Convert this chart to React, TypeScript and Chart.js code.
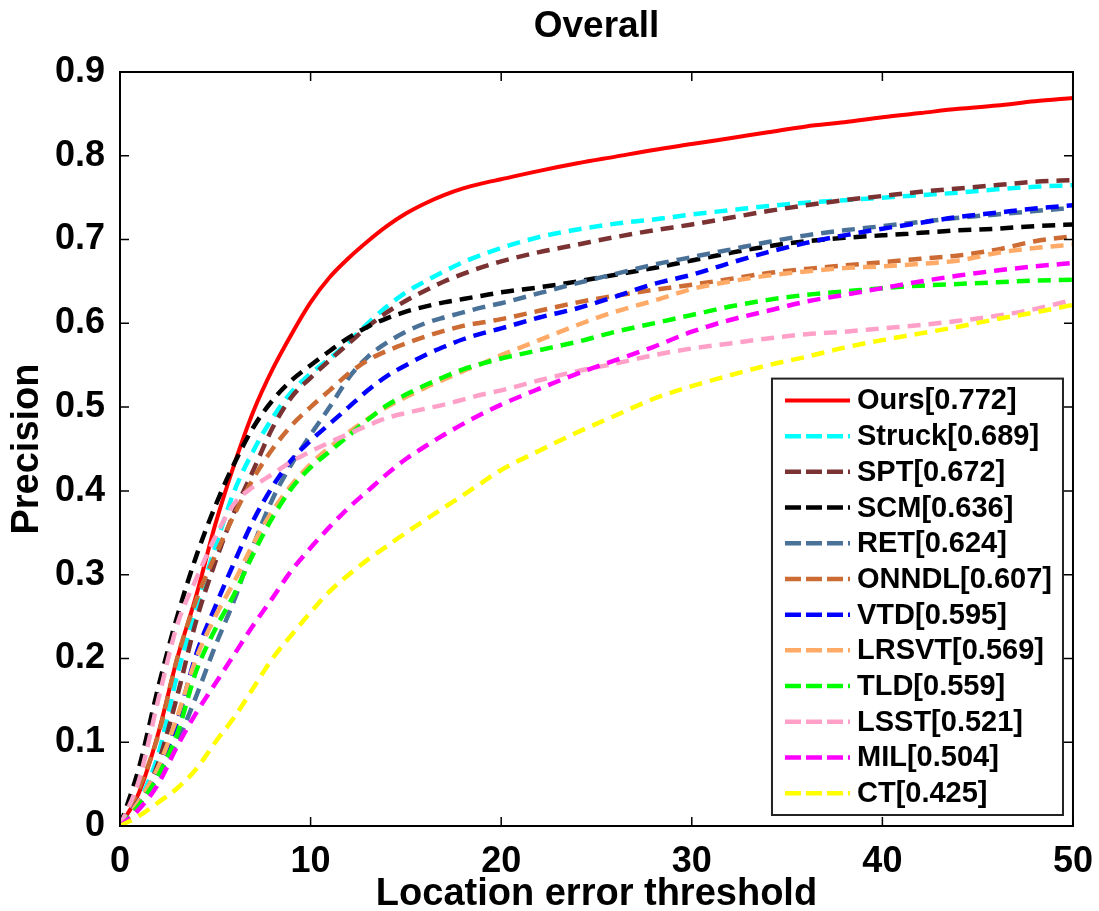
import React, { useEffect, useRef } from 'react';
import { Chart, registerables } from 'chart.js';

Chart.register(...registerables);

// ---- data ----
const xValues = [0, 1, 2, 3, 4, 5, 6, 7, 8, 9, 10, 11, 12, 13, 14, 15, 16, 17, 18, 19, 20, 22, 24, 26, 28, 30, 32, 34, 36, 38, 40, 42, 44, 46, 48, 50];

const ours = [0, 0.04, 0.11, 0.2, 0.275, 0.36, 0.432, 0.495, 0.545, 0.587, 0.625, 0.655, 0.678, 0.698, 0.716, 0.731, 0.743, 0.753, 0.761, 0.767, 0.772, 0.782, 0.791, 0.799, 0.807, 0.814, 0.821, 0.828, 0.835, 0.84, 0.846, 0.851, 0.856, 0.86, 0.865, 0.869];
const struck = [0, 0.03, 0.085, 0.18, 0.26, 0.333, 0.4, 0.448, 0.487, 0.518, 0.54, 0.558, 0.578, 0.6, 0.62, 0.637, 0.65, 0.662, 0.673, 0.682, 0.69, 0.703, 0.712, 0.719, 0.724, 0.73, 0.735, 0.74, 0.744, 0.747, 0.75, 0.753, 0.756, 0.76, 0.763, 0.765];
const spt = [0, 0.025, 0.075, 0.155, 0.245, 0.315, 0.375, 0.425, 0.475, 0.512, 0.535, 0.556, 0.576, 0.596, 0.613, 0.627, 0.639, 0.65, 0.659, 0.667, 0.674, 0.685, 0.694, 0.703, 0.711, 0.718, 0.726, 0.734, 0.741, 0.747, 0.752, 0.757, 0.761, 0.765, 0.769, 0.771];
const scm = [0, 0.07, 0.165, 0.25, 0.322, 0.382, 0.433, 0.476, 0.508, 0.532, 0.55, 0.567, 0.583, 0.596, 0.606, 0.614, 0.62, 0.625, 0.629, 0.633, 0.637, 0.643, 0.65, 0.658, 0.666, 0.675, 0.684, 0.692, 0.698, 0.702, 0.705, 0.708, 0.711, 0.713, 0.716, 0.718];
const ret = [0, 0.025, 0.06, 0.1, 0.155, 0.215, 0.27, 0.335, 0.39, 0.432, 0.467, 0.5, 0.535, 0.56, 0.577, 0.59, 0.6, 0.607, 0.613, 0.619, 0.624, 0.636, 0.648, 0.659, 0.67, 0.679, 0.688, 0.697, 0.705, 0.711, 0.716, 0.721, 0.726, 0.73, 0.734, 0.738];
const onndl = [0, 0.045, 0.108, 0.2, 0.27, 0.323, 0.372, 0.415, 0.45, 0.478, 0.5, 0.52, 0.54, 0.556, 0.567, 0.576, 0.584, 0.591, 0.597, 0.601, 0.605, 0.615, 0.625, 0.633, 0.64, 0.646, 0.653, 0.66, 0.665, 0.669, 0.673, 0.677, 0.681, 0.688, 0.698, 0.704];
const vtd = [0, 0.03, 0.065, 0.125, 0.205, 0.262, 0.315, 0.365, 0.405, 0.437, 0.46, 0.48, 0.5, 0.52, 0.537, 0.55, 0.562, 0.572, 0.581, 0.588, 0.594, 0.607, 0.618, 0.632, 0.647, 0.658, 0.672, 0.685, 0.696, 0.705, 0.713, 0.72, 0.727, 0.732, 0.737, 0.741];
const lrsvt = [0, 0.03, 0.07, 0.13, 0.2, 0.25, 0.292, 0.337, 0.376, 0.407, 0.432, 0.452, 0.47, 0.486, 0.5, 0.512, 0.523, 0.533, 0.543, 0.552, 0.562, 0.58, 0.598, 0.614, 0.627, 0.641, 0.65, 0.657, 0.662, 0.666, 0.668, 0.671, 0.675, 0.684, 0.69, 0.694];
const tld = [0, 0.025, 0.06, 0.11, 0.185, 0.235, 0.277, 0.325, 0.368, 0.403, 0.428, 0.447, 0.466, 0.485, 0.502, 0.515, 0.526, 0.536, 0.545, 0.552, 0.558, 0.568, 0.578, 0.59, 0.6, 0.61, 0.62, 0.628, 0.634, 0.638, 0.642, 0.645, 0.647, 0.649, 0.651, 0.652];
const lsst = [0, 0.055, 0.15, 0.24, 0.295, 0.345, 0.385, 0.405, 0.42, 0.435, 0.447, 0.458, 0.468, 0.478, 0.487, 0.493, 0.498, 0.503, 0.509, 0.515, 0.52, 0.532, 0.543, 0.552, 0.562, 0.57, 0.576, 0.582, 0.587, 0.59, 0.594, 0.598, 0.603, 0.609, 0.617, 0.628];
const mil = [0, 0.02, 0.05, 0.095, 0.135, 0.17, 0.205, 0.24, 0.272, 0.305, 0.332, 0.357, 0.38, 0.4, 0.42, 0.438, 0.453, 0.467, 0.48, 0.492, 0.503, 0.522, 0.54, 0.556, 0.572, 0.59, 0.604, 0.615, 0.626, 0.634, 0.642, 0.65, 0.657, 0.663, 0.668, 0.672];
const ct = [0, 0.012, 0.028, 0.045, 0.068, 0.1, 0.13, 0.165, 0.2, 0.228, 0.255, 0.28, 0.3, 0.318, 0.334, 0.35, 0.365, 0.38, 0.395, 0.41, 0.425, 0.448, 0.47, 0.49, 0.51, 0.525, 0.538, 0.55, 0.56, 0.571, 0.58, 0.588, 0.596, 0.605, 0.613, 0.622];

const seriesNames = ['Ours[0.772]', 'Struck[0.689]', 'SPT[0.672]', 'SCM[0.636]', 'RET[0.624]', 'ONNDL[0.607]', 'VTD[0.595]', 'LRSVT[0.569]', 'TLD[0.559]', 'LSST[0.521]', 'MIL[0.504]', 'CT[0.425]'];
const seriesColors = ['#FF0000', '#00FFFF', '#7A3232', '#000000', '#4A7299', '#CC6B33', '#0000FF', '#FFAA66', '#00FF00', '#FFA0C8', '#FF00FF', '#FFFF00'];
const seriesDashed = [false, true, true, true, true, true, true, true, true, true, true, true];

const xTickValues = [0, 10, 20, 30, 40, 50];
const xTickLabels = ['0', '10', '20', '30', '40', '50'];
const yTickValues = [0, 0.1, 0.2, 0.3, 0.4, 0.5, 0.6, 0.7, 0.8, 0.9];
const yTickLabels = ['0', '0.1', '0.2', '0.3', '0.4', '0.5', '0.6', '0.7', '0.8', '0.9'];

const titleText = 'Overall';
const xTitle = 'Location error threshold';
const yTitle = 'Precision';

const FONT = "'Liberation Sans', Arial, Helvetica, sans-serif";

export default function App() {
  const ref = useRef<HTMLCanvasElement>(null);

  useEffect(() => {
    const canvas = ref.current;
    if (!canvas) return;
    const seriesValues = [ours, struck, spt, scm, ret, onndl, vtd, lrsvt, tld, lsst, mil, ct];
    const n = seriesValues.length;
    const plotDash = [13, 8];
    const legendDash = [16, 5];

    const datasets = seriesValues.map((vals, i) => ({
      label: seriesNames[i],
      data: xValues.map((x, j) => ({ x, y: vals[j] })),
      borderColor: seriesColors[i],
      backgroundColor: seriesColors[i],
      borderWidth: i === 0 ? 4 : 4.5,
      borderDash: seriesDashed[i] ? plotDash : [],
      borderCapStyle: 'butt',
      pointRadius: 0,
      pointHoverRadius: 0,
      cubicInterpolationMode: 'monotone',
      fill: false,
      order: n - 1 - i,
    }));

    const framePlugin = {
      id: 'frameTicks',
      afterDatasetsDraw(chart: any) {
        const { ctx, chartArea: a, scales } = chart;
        ctx.save();
        ctx.strokeStyle = '#000';
        ctx.lineWidth = 1.5;
        ctx.setLineDash([]);
        const tl = 9;
        xTickValues.forEach((v) => {
          const p = scales.x.getPixelForValue(v);
          ctx.beginPath();
          ctx.moveTo(p, a.bottom);
          ctx.lineTo(p, a.bottom - tl);
          ctx.moveTo(p, a.top);
          ctx.lineTo(p, a.top + tl);
          ctx.stroke();
        });
        yTickValues.forEach((v) => {
          const p = scales.y.getPixelForValue(v);
          ctx.beginPath();
          ctx.moveTo(a.left, p);
          ctx.lineTo(a.left + tl, p);
          ctx.moveTo(a.right, p);
          ctx.lineTo(a.right - tl, p);
          ctx.stroke();
        });
        ctx.lineWidth = 2;
        ctx.strokeRect(a.left, a.top, a.right - a.left, a.bottom - a.top);
        ctx.restore();
      },
    };

    const legendPlugin = {
      id: 'boxLegend',
      afterDraw(chart: any) {
        const { ctx, chartArea: a } = chart;
        const right = a.right - 10;
        const bottom = a.bottom - 11;
        const w = 291;
        const rowH = 35.7;
        const padY = 4;
        const h = rowH * n + padY * 2;
        const left = right - w;
        const top = bottom - h;
        ctx.save();
        ctx.fillStyle = '#fff';
        ctx.fillRect(left, top, w, h);
        ctx.strokeStyle = '#222';
        ctx.lineWidth = 2;
        ctx.setLineDash([]);
        ctx.strokeRect(left, top, w, h);
        ctx.font = `bold 29px ${FONT}`;
        ctx.textBaseline = 'middle';
        ctx.textAlign = 'left';
        for (let i = 0; i < n; i++) {
          const cy = top + padY + rowH * i + rowH / 2;
          ctx.beginPath();
          ctx.strokeStyle = seriesColors[i];
          ctx.lineWidth = i === 0 ? 4 : 4.5;
          ctx.setLineDash(seriesDashed[i] ? legendDash : []);
          ctx.moveTo(left + 13, cy);
          ctx.lineTo(left + 78, cy);
          ctx.stroke();
          ctx.setLineDash([]);
          ctx.fillStyle = '#000';
          ctx.fillText(seriesNames[i], left + 85, cy + 1);
        }
        ctx.restore();
      },
    };

    const tickFont = { family: FONT, size: 36, weight: 'bold' as const };
    const titleFont = { family: FONT, size: 38, weight: 'bold' as const, lineHeight: 1.2 };

    const chart = new Chart(canvas, {
      type: 'line',
      data: { datasets: datasets as any },
      options: {
        responsive: false,
        animation: false,
        devicePixelRatio: 1,
        events: [],
        layout: { padding: { left: 0, right: 23, top: 0, bottom: 0 } },
        plugins: {
          legend: { display: false },
          tooltip: { enabled: false },
          title: {
            display: true,
            text: titleText,
            fullSize: false,
            color: '#000',
            font: { family: FONT, size: 37, weight: 'bold', lineHeight: 1.2 },
            padding: { top: 5, bottom: 22.6 },
          },
        },
        scales: {
          x: {
            type: 'linear',
            min: 0,
            max: 50,
            afterFit: (s: any) => {
              s.height = 85;
            },
            afterBuildTicks: (s: any) => {
              s.ticks = xTickValues.map((v) => ({ value: v }));
            },
            grid: { display: false },
            border: { display: false },
            ticks: {
              callback: (_v: any, i: number) => xTickLabels[i],
              font: tickFont,
              color: '#000',
              padding: 6,
              maxRotation: 0,
              autoSkip: false,
            },
            title: {
              display: true,
              text: xTitle,
              color: '#000',
              font: titleFont,
              padding: { top: 0, bottom: -6 },
            },
          },
          y: {
            type: 'linear',
            min: 0,
            max: 0.9,
            afterFit: (s: any) => {
              s.width = 120;
            },
            afterBuildTicks: (s: any) => {
              s.ticks = yTickValues.map((v) => ({ value: v }));
            },
            grid: { display: false },
            border: { display: false },
            ticks: {
              callback: (_v: any, i: number) => yTickLabels[i],
              font: tickFont,
              color: '#000',
              padding: 7,
              autoSkip: false,
            },
            title: {
              display: true,
              text: yTitle,
              color: '#000',
              font: titleFont,
              padding: { top: 5, bottom: 0 },
            },
          },
        },
      } as any,
      plugins: [framePlugin, legendPlugin],
    });

    return () => {
      chart.destroy();
    };
  }, []);

  return (
    <div style={{ position: 'absolute', left: 0, top: 0, width: 1099, height: 911, background: '#fff' }}>
      <canvas ref={ref} width={1099} height={911} style={{ display: 'block', width: 1099, height: 911 }} />
    </div>
  );
}
